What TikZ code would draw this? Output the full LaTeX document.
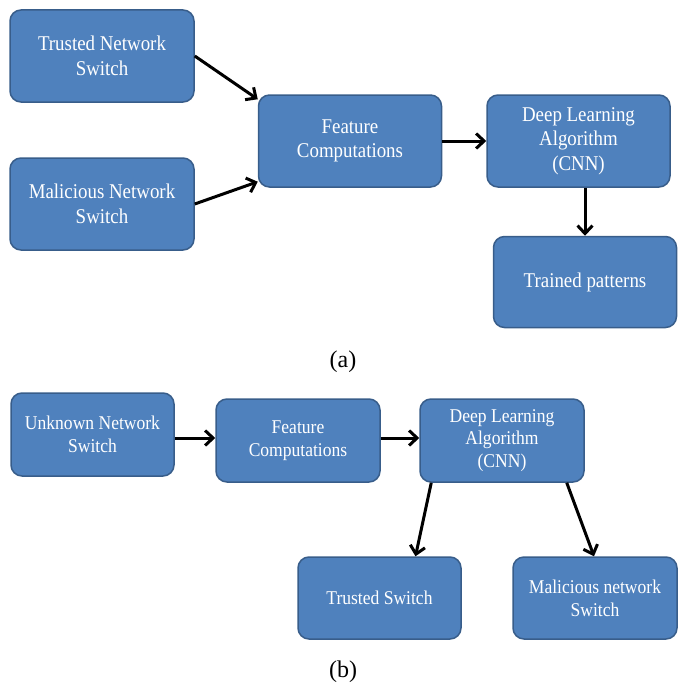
\documentclass[tikz,border=0pt]{standalone}
\usepackage{fontspec}
\setmainfont[FakeStretch=0.9]{Liberation Serif}
\newfontfamily\capfont{Liberation Serif}
\usetikzlibrary{arrows.meta,calc}
\definecolor{boxfill}{RGB}{79,129,189}
\definecolor{boxline}{RGB}{56,93,138}
\tikzset{
  box/.style={draw=boxline, line width=1.5pt, fill=boxfill, rounded corners=11pt,
    text=white, align=center, inner sep=0pt, font=\fontsize{21}{24.5}\selectfont},
  boxb/.style={box, font=\fontsize{19.5}{22.8}\selectfont},
  conn/.style={line width=3pt, -{Straight Barb[length=8pt,width=15pt,line width=3pt]}},
  captext/.style={font=\capfont\fontsize{24}{26}\selectfont}
}
\begin{document}
\begin{tikzpicture}[x=1pt,y=-1pt]
\useasboundingbox (0,0) rectangle (680,685);
% (a)
\node[box, minimum width=184pt, minimum height=92pt] (t) at (102,56) {Trusted Network\\Switch};
\node[box, minimum width=184pt, minimum height=92pt] (m) at (102,204) {Malicious Network\\Switch};
\node[box, minimum width=183pt, minimum height=92pt] (f) at (350,141) {Feature\\Computations};
\node[box, minimum width=183pt, minimum height=92pt] (d) at (578.5,141) {Deep Learning\\Algorithm\\(CNN)};
\node[box, minimum width=183pt, minimum height=91pt] (tr) at (585,282) {Trained patterns};
\node[captext] (la) at (343,362) {(a)};
\draw[conn] (t.east) -- ($(f.north west)+(0,5)$);
\draw[conn] (m.east) -- ($(f.south west)+(0,-6)$);
\draw[conn] (f.east) -- (d.west);
\draw[conn] (d.south -| tr.north) -- (tr.north);
% (b)
\node[boxb, minimum width=163pt, minimum height=83pt] (u) at (92.5,434.5) {Unknown Network\\Switch};
\node[boxb, minimum width=164pt, minimum height=83pt] (fb) at (298,440.5) {Feature\\Computations};
\node[boxb, minimum width=164pt, minimum height=83pt] (db) at (502,440.5) {Deep Learning\\Algorithm\\(CNN)};
\node[boxb, minimum width=163pt, minimum height=82pt] (ts) at (379.5,598) {Trusted Switch};
\node[boxb, minimum width=164pt, minimum height=82pt] (ms) at (595,598) {Malicious network\\Switch};
\node[captext] (lb) at (343,672) {(b)};
\draw[conn] (u.east |- 0,438) -- (fb.west |- 0,438);
\draw[conn] (fb.east |- 0,438) -- (db.west |- 0,438);
\draw[conn] ($(db.south west)+(12,0)$) -- ($(ts.north)+(36,0)$);
\draw[conn] ($(db.south east)+(-18,0)$) -- ($(ms.north)+(-1,0)$);
\end{tikzpicture}
\end{document}
